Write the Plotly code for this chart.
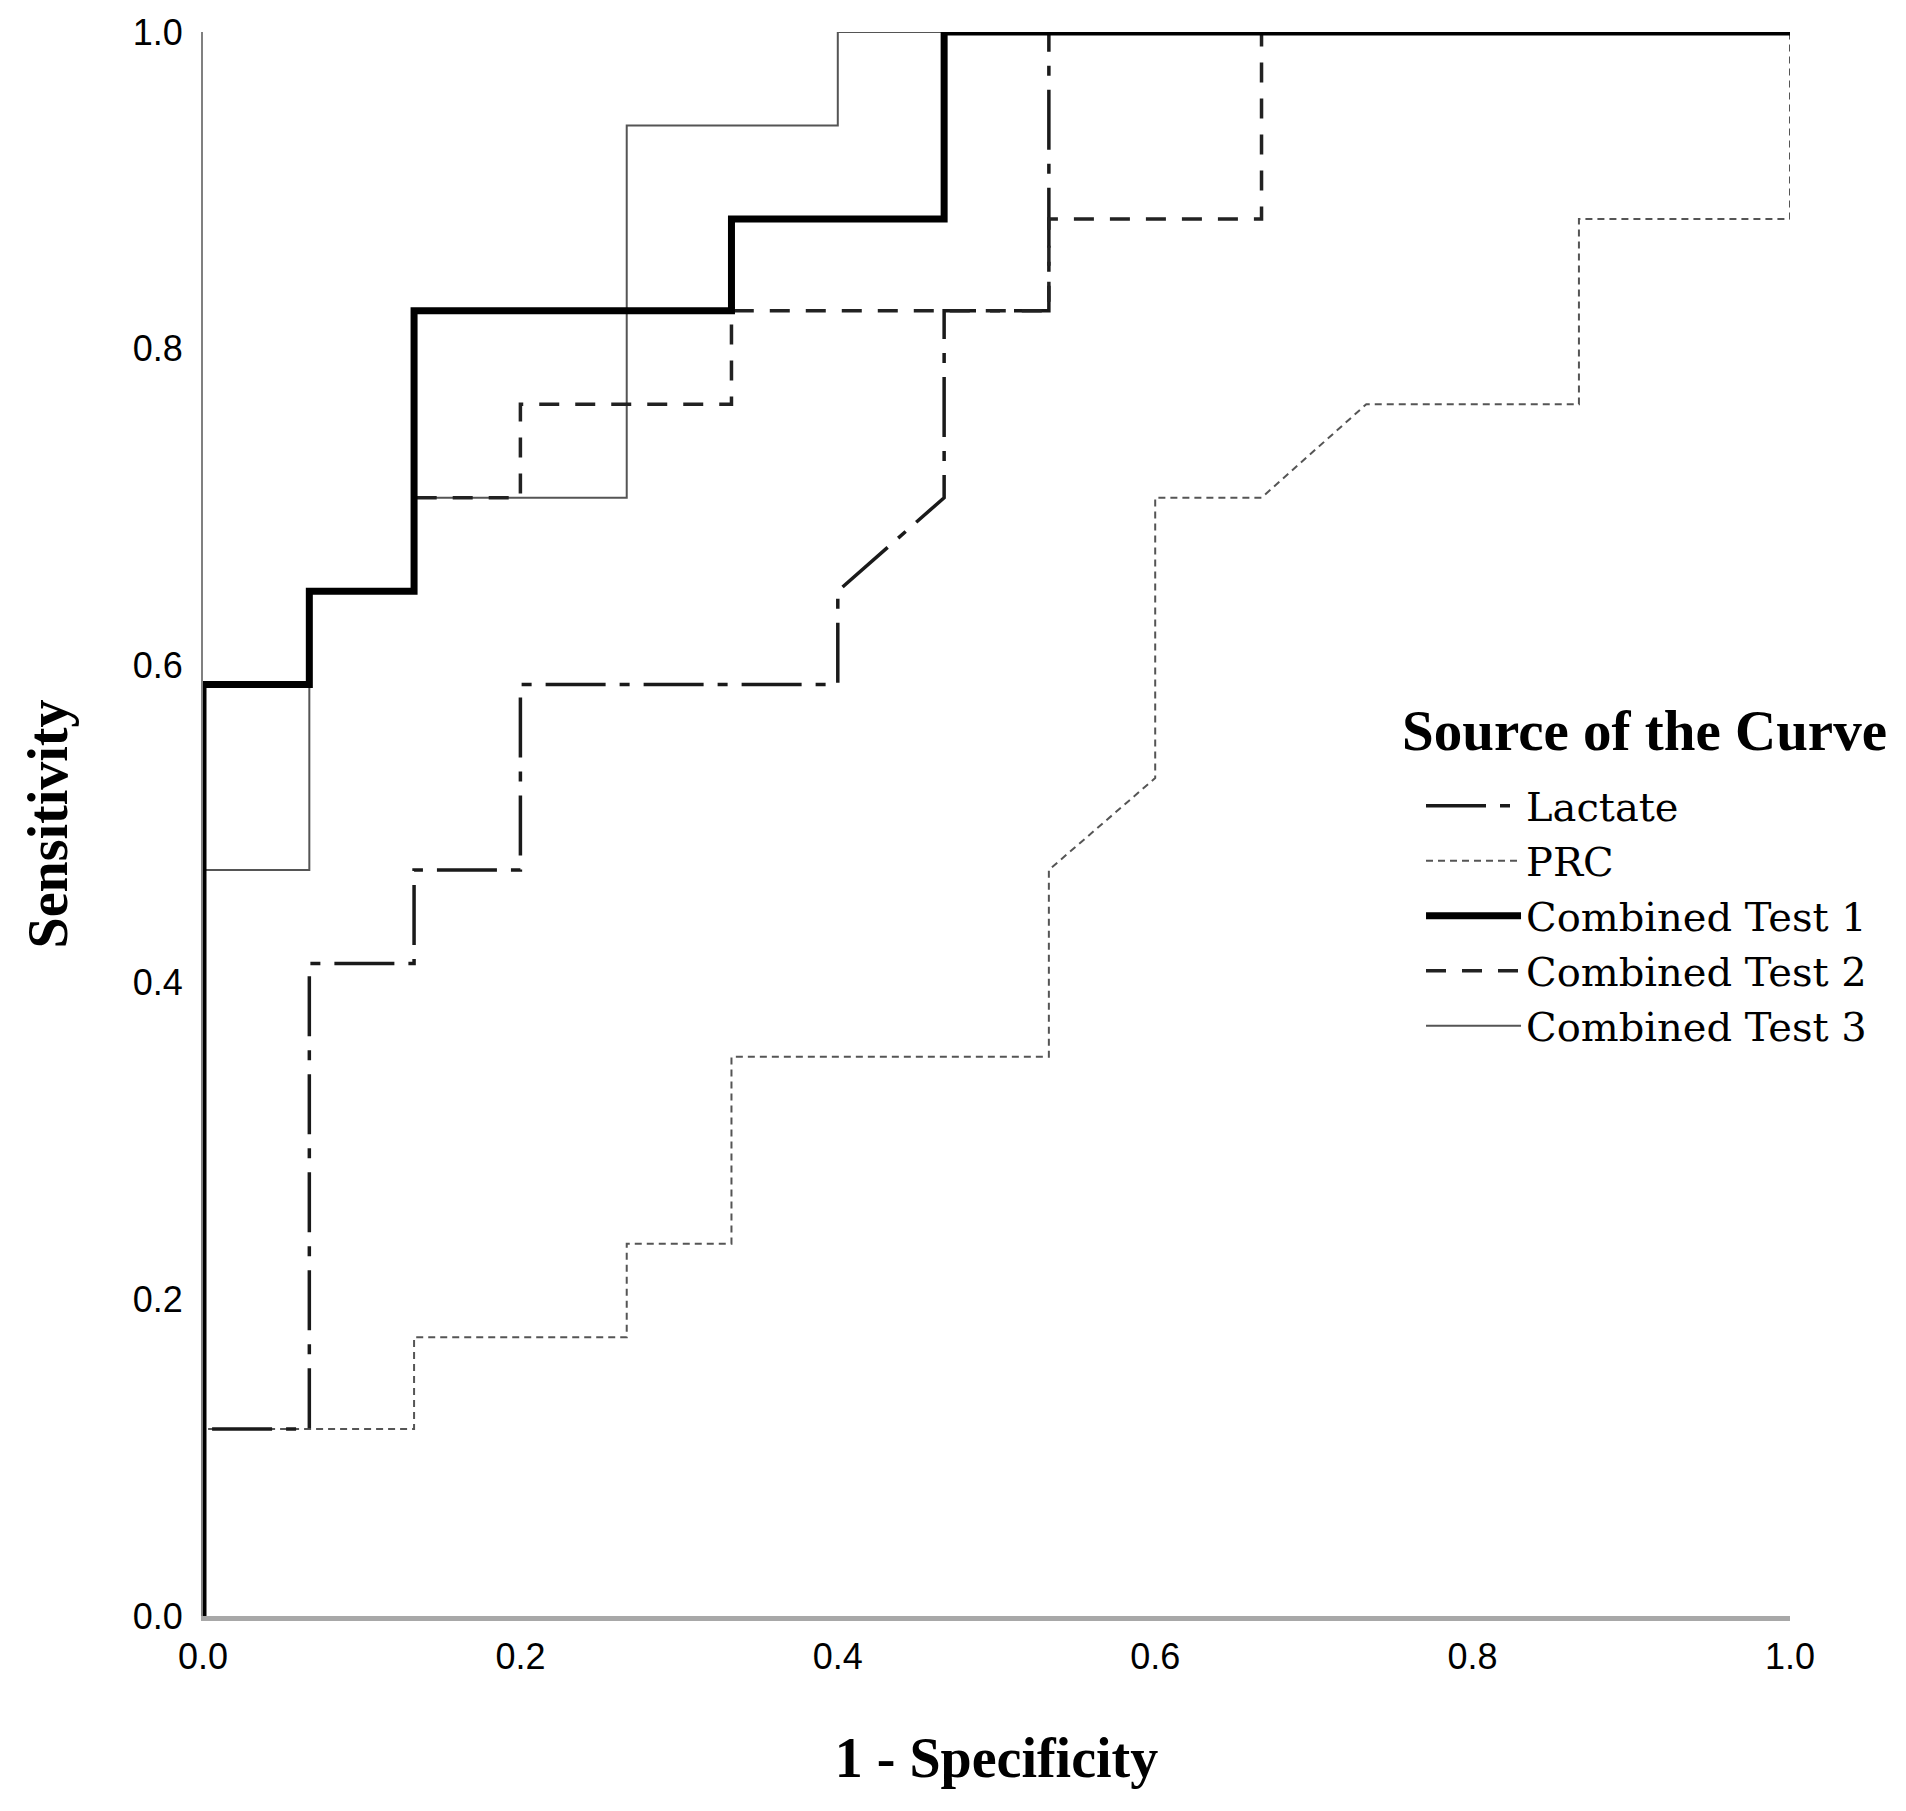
import plotly.graph_objects as go

# ROC curves (1 - specificity, sensitivity)
lactate_x = [0.0, 0.0, 0.067, 0.067, 0.133, 0.133, 0.2, 0.2, 0.4, 0.4, 0.467, 0.467, 0.533, 0.533, 1.0]
lactate_y = [0.0, 0.118, 0.118, 0.412, 0.412, 0.471, 0.471, 0.588, 0.588, 0.647, 0.706, 0.824, 0.824, 1.0, 1.0]

prc_x = [0.0, 0.0, 0.133, 0.133, 0.267, 0.267, 0.333, 0.333, 0.533, 0.533, 0.6, 0.6, 0.667, 0.733, 0.867, 0.867, 1.0, 1.0]
prc_y = [0.0, 0.118, 0.118, 0.176, 0.176, 0.235, 0.235, 0.353, 0.353, 0.471, 0.529, 0.706, 0.706, 0.765, 0.765, 0.882, 0.882, 1.0]

comb1_x = [0.0, 0.0, 0.067, 0.067, 0.133, 0.133, 0.333, 0.333, 0.467, 0.467, 1.0]
comb1_y = [0.0, 0.588, 0.588, 0.647, 0.647, 0.824, 0.824, 0.882, 0.882, 1.0, 1.0]

comb2_x = [0.0, 0.0, 0.067, 0.067, 0.133, 0.133, 0.2, 0.2, 0.333, 0.333, 0.533, 0.533, 0.667, 0.667, 1.0]
comb2_y = [0.0, 0.588, 0.588, 0.647, 0.647, 0.706, 0.706, 0.765, 0.765, 0.824, 0.824, 0.882, 0.882, 1.0, 1.0]

comb3_x = [0.0, 0.0, 0.067, 0.067, 0.133, 0.133, 0.267, 0.267, 0.4, 0.4, 1.0]
comb3_y = [0.0, 0.471, 0.471, 0.647, 0.647, 0.706, 0.706, 0.941, 0.941, 1.0, 1.0]

tick_vals = [0.0, 0.2, 0.4, 0.6, 0.8, 1.0]
tick_text = ["0.0", "0.2", "0.4", "0.6", "0.8", "1.0"]

SERIF = "Liberation Serif, Times New Roman, serif"
WIDE_SERIF = "DejaVu Serif, serif"
SANS = "Liberation Sans, Arial, sans-serif"

fig = go.Figure()

# drawn bottom to top so the thin grey lines sit where the reference shows them
fig.add_trace(go.Scatter(x=comb3_x, y=comb3_y, mode="lines", name="Combined Test 3",
                         line=dict(color="#555555", width=2), legendrank=5))
fig.add_trace(go.Scatter(x=prc_x, y=prc_y, mode="lines", name="PRC",
                         line=dict(color="#555555", width=2, dash="7px,5px"), legendrank=2))
fig.add_trace(go.Scatter(x=lactate_x, y=lactate_y, mode="lines", name="Lactate",
                         line=dict(color="#1a1a1a", width=3.5, dash="60px,14px,10px,14px"), legendrank=1))
fig.add_trace(go.Scatter(x=comb2_x, y=comb2_y, mode="lines", name="Combined Test 2",
                         line=dict(color="#222222", width=3.5, dash="20px,16px"), legendrank=4))
fig.add_trace(go.Scatter(x=comb1_x, y=comb1_y, mode="lines", name="Combined Test 1",
                         line=dict(color="#000000", width=7), legendrank=3))

# legend heading as its own text so the gap above the items can be set
fig.add_annotation(
    text="<b>Source of the Curve</b>", xref="paper", yref="paper",
    x=0.754, y=0.559, xanchor="left", yanchor="middle", showarrow=False,
    font=dict(family=SERIF, size=57, color="black"),
)

fig.update_layout(
    width=1898,
    height=1803,
    margin=dict(l=195, r=116, t=24, b=195),
    paper_bgcolor="white",
    plot_bgcolor="white",
    showlegend=True,
    legend=dict(
        font=dict(family=WIDE_SERIF, size=40, color="black"),
        x=0.7675, y=0.532, xanchor="left", yanchor="top",
        bgcolor="rgba(0,0,0,0)",
        tracegroupgap=0,
        itemwidth=95,
        traceorder="normal",
    ),
    xaxis=dict(
        range=[0, 1], tickvals=tick_vals, ticktext=tick_text,
        showgrid=False, zeroline=False, automargin=False,
        showline=True, linecolor="#a8a8a8", linewidth=5,
        ticks="", ticklabelstandoff=5,
        tickfont=dict(family=SANS, size=36, color="black"),
        title=dict(text="<b>1 - Specificity</b>", font=dict(family=SERIF, size=56, color="black"), standoff=63),
    ),
    yaxis=dict(
        range=[0, 1], tickvals=tick_vals, ticktext=tick_text,
        showgrid=False, zeroline=False, automargin=False,
        showline=True, linecolor="#808080", linewidth=2,
        ticks="", ticklabelstandoff=11,
        tickfont=dict(family=SANS, size=36, color="black"),
        title=dict(text="<b>Sensitivity</b>", font=dict(family=SERIF, size=56, color="black"), standoff=47),
    ),
)

fig.write_html("out.html")
